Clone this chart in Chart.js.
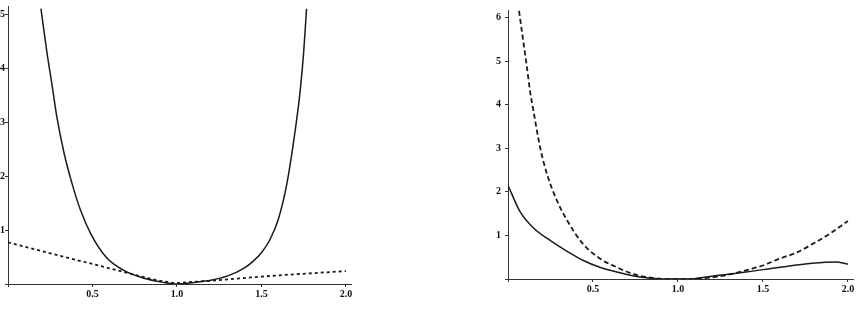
<!DOCTYPE html>
<html>
<head>
<meta charset="utf-8">
<script src="https://cdn.jsdelivr.net/npm/chart.js@4.4.1/dist/chart.umd.min.js"></script>
<style>
  html, body { margin:0; padding:0; background:#fff; }
  body { width:858px; height:312px; overflow:hidden; position:relative; }
  .box { position:absolute; top:0; }
</style>
</head>
<body>
<div class="box" style="left:-32px"><canvas id="leftChart" width="391" height="312"></canvas></div>
<div class="box" style="left:468px"><canvas id="rightChart" width="393" height="312"></canvas></div>
<script>
// left panel
const leftSolidX = [0.195,0.23,0.26,0.29,0.33,0.38,0.43,0.49,0.58,0.68,0.8,0.92,1.0,1.1,1.2,1.3,1.4,1.45,1.5,1.55,1.6,1.65,1.7,1.73,1.75,1.767];
const leftSolidY = [5.1,4.3,3.7,3.08,2.45,1.85,1.36,0.93,0.5,0.26,0.11,0.03,0,0.03,0.07,0.15,0.3,0.42,0.58,0.82,1.2,1.85,2.85,3.6,4.3,5.1];
const leftDashX = [0,0.1,0.2,0.3,0.4,0.5,0.6,0.7,0.8,0.9,1.0,1.1,1.2,1.4,1.6,1.8,2.0];
const leftDashY = [0.77,0.69,0.61,0.53,0.45,0.37,0.29,0.21,0.13,0.06,0.02,0.04,0.06,0.11,0.16,0.2,0.24];
const leftYTicks = ["1","2","3","4","5"];

// right panel
const rightSolidX = [0,0.07,0.15,0.25,0.35,0.44,0.54,0.64,0.74,0.84,0.95,1.05,1.21,1.4,1.6,1.79,1.93,2.0];
const rightSolidY = [2.15,1.55,1.17,0.88,0.63,0.43,0.27,0.16,0.07,0.02,0,0,0.07,0.16,0.27,0.36,0.39,0.34];
const rightDashX = [0.065,0.09,0.11,0.13,0.15,0.19,0.23,0.29,0.35,0.44,0.54,0.64,0.74,0.84,0.95,1.05,1.15,1.26,1.4,1.5,1.6,1.7,1.79,1.89,2.0];
const rightDashY = [6.15,5.45,4.9,4.3,3.85,3.0,2.4,1.78,1.33,0.81,0.47,0.27,0.11,0.03,0,0,0.02,0.07,0.2,0.31,0.47,0.61,0.8,1.03,1.33];
const rightYTicks = ["1","2","3","4","5","6"];

const xTicks = ["0.5","1.0","1.5","2.0"];

function pts(xs, ys) {
    return xs.map((x, i) => ({x: x, y: ys[i]}));
}

const tickFont = {family:"Liberation Serif", size:10, weight:"bold"};

function makeChart(id, solid, dash, yMax, yLabels, xHeight, dashPattern, yPad) {
    return new Chart(document.getElementById(id), {
        type: "line",
        data: {
            datasets: [
                {
                    data: solid,
                    borderColor: "#1a1a1a",
                    borderWidth: 1.5,
                    pointRadius: 0,
                    cubicInterpolationMode: "monotone"
                },
                {
                    data: dash,
                    borderColor: "#1a1a1a",
                    borderWidth: 1.8,
                    borderDash: dashPattern,
                    pointRadius: 0,
                    cubicInterpolationMode: "monotone"
                }
            ]
        },
        options: {
            responsive: false,
            animation: false,
            layout: { padding: { top: 5, right: 8, left: 0, bottom: 0 } },
            plugins: { legend: { display: false }, tooltip: { enabled: false } },
            scales: {
                x: {
                    type: "linear",
                    min: 0,
                    max: 2.03,
                    border: { color: "#333", width: 1 },
                    grid: { drawOnChartArea: false, drawTicks: true, tickLength: 3, color: "#333" },
                    ticks: {
                        stepSize: 0.5,
                        includeBounds: false,
                        maxRotation: 0,
                        padding: 1,
                        color: "#111",
                        font: tickFont,
                        callback: v => (v > 0 ? xTicks[Math.round(v / 0.5) - 1] : "")
                    },
                    afterFit: s => { s.height = xHeight; }
                },
                y: {
                    type: "linear",
                    min: 0,
                    max: yMax,
                    border: { color: "#333", width: 1 },
                    grid: { drawOnChartArea: false, drawTicks: true, tickLength: 3, color: "#333" },
                    ticks: {
                        stepSize: 1,
                        includeBounds: false,
                        padding: yPad,
                        color: "#111",
                        font: tickFont,
                        callback: v => (v > 0 ? yLabels[Math.round(v) - 1] : "")
                    },
                    afterFit: s => { s.width = 40; }
                }
            }
        }
    });
}

makeChart("leftChart", pts(leftSolidX, leftSolidY), pts(leftDashX, leftDashY), 5.15, leftYTicks, 28, [3, 3], 0);
makeChart("rightChart", pts(rightSolidX, rightSolidY), pts(rightDashX, rightDashY), 6.17, rightYTicks, 33, [5, 3], 4);
</script>
</body>
</html>
